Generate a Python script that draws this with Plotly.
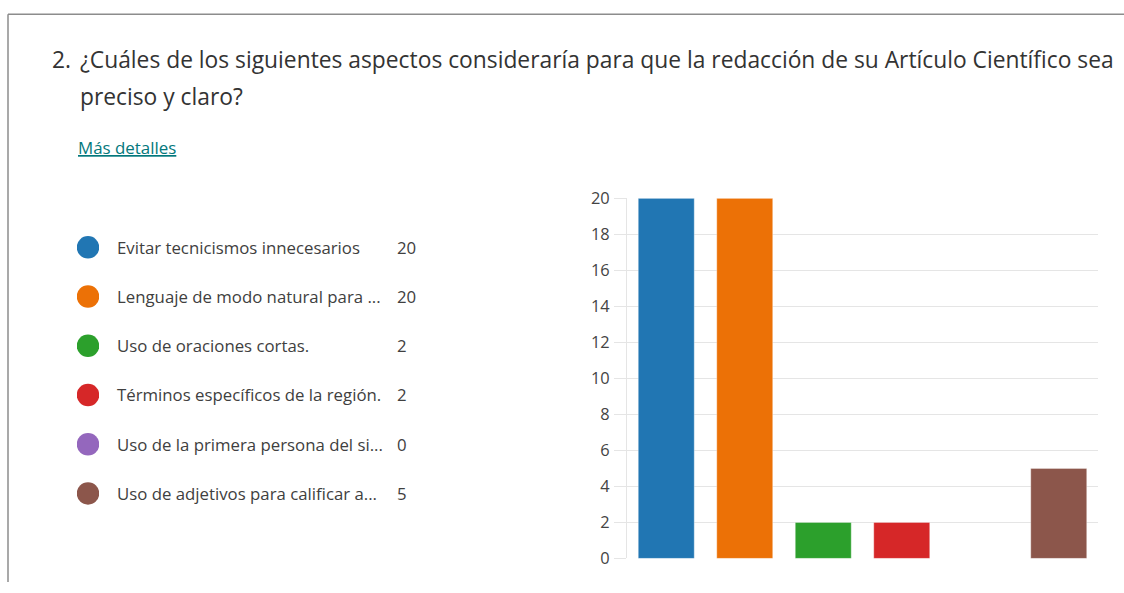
import plotly.graph_objects as go

# ---- data ----
categories = [
    "Evitar tecnicismos innecesarios",
    "Lenguaje de modo natural para ...",
    "Uso de oraciones cortas.",
    "Términos específicos de la región.",
    "Uso de la primera persona del si...",
    "Uso de adjetivos para calificar a...",
]
counts = [20, 20, 2, 2, 0, 5]
colors = ["#2176b3", "#ec7106", "#2ca02c", "#d62728", "#9467bd", "#8c564b"]
y_ticks = list(range(0, 21, 2))

title_line1 = "¿Cuáles de los siguientes aspectos consideraría para que la redacción de su Artículo Científico sea"
title_line2 = "preciso y claro?"
link_text = "Más detalles"

W, H = 1124, 593
FONT = "Open Sans, Noto Sans, sans-serif"
TXT = "#333333"

# vertical correction for how the page ends up in the photograph
V_OFF, V_SC = 11.7, 0.961

def px(x):
    return x / W

def py(y):
    yy = (y - V_OFF) / V_SC
    return (H - yy) / H

fig = go.Figure()

# bar chart
fig.add_trace(go.Bar(
    x=categories, y=counts,
    marker=dict(color=colors, line=dict(color="rgba(255,255,255,0.35)", width=1)),
    xaxis="x", yaxis="y", showlegend=False, hoverinfo="x+y",
))

# legend circles
fig.add_trace(go.Scatter(
    x=[0] * len(categories), y=categories,
    mode="markers",
    marker=dict(color=colors, size=22.5, line=dict(width=0)),
    xaxis="x2", yaxis="y2", showlegend=False, hoverinfo="skip",
))

annotations = []
for cat, val in zip(categories, counts):
    annotations.append(dict(
        x=px(115), y=cat, xref="paper", yref="y2", text=cat,
        showarrow=False, xanchor="left", yanchor="middle",
        font=dict(family=FONT, size=16.8, color="#404040"),
    ))
    annotations.append(dict(
        x=px(395), y=cat, xref="paper", yref="y2", text=str(val),
        showarrow=False, xanchor="left", yanchor="middle",
        font=dict(family=FONT, size=16.8, color="#404040"),
    ))

annotations += [
    dict(x=px(50), y=py(59), xref="paper", yref="paper", text="2.",
         showarrow=False, xanchor="left", yanchor="middle",
         font=dict(family=FONT, size=22.8, color=TXT)),
    dict(x=px(78), y=py(59), xref="paper", yref="paper", text=title_line1,
         showarrow=False, xanchor="left", yanchor="middle",
         font=dict(family=FONT, size=22.8, color=TXT)),
    dict(x=px(78), y=py(96), xref="paper", yref="paper", text=title_line2,
         showarrow=False, xanchor="left", yanchor="middle",
         font=dict(family=FONT, size=22.8, color=TXT)),
    dict(x=px(76), y=py(147), xref="paper", yref="paper", text="<u>" + link_text + "</u>",
         showarrow=False, xanchor="left", yanchor="middle",
         font=dict(family=FONT, size=16.9, color="#03787c")),
]

shapes = [
    dict(type="line", xref="paper", yref="paper", x0=px(8), x1=1, y0=py(14), y1=py(14),
         line=dict(color="#8c8c8c", width=1.5)),
    dict(type="line", xref="paper", yref="paper", x0=px(8), x1=px(8), y0=py(14), y1=0,
         line=dict(color="#8c8c8c", width=1.5)),
]

fig.update_layout(
    width=W, height=H,
    margin=dict(l=0, r=0, t=0, b=0),
    paper_bgcolor="white", plot_bgcolor="white",
    bargap=0.287,
    font=dict(family=FONT, color=TXT),
    xaxis=dict(
        domain=[px(627), px(1098)], showticklabels=False, showgrid=False,
        zeroline=False, showline=False, ticks="", fixedrange=True,
    ),
    yaxis=dict(
        domain=[py(558), py(198)], range=[0, 20], tickvals=y_ticks,
        showgrid=True, gridcolor="#e5e5e5", gridwidth=1,
        zeroline=False, showline=True, linecolor="#e5e5e5", linewidth=1,
        ticks="outside", ticklen=12, tickcolor="#e5e5e5", tickwidth=1,
        tickfont=dict(family=FONT, size=16.4, color="#444444"),
        ticklabelstandoff=1, fixedrange=True,
    ),
    xaxis2=dict(
        domain=[px(77), px(99)], range=[-1, 1], visible=False, anchor="y2",
        fixedrange=True,
    ),
    yaxis2=dict(
        domain=[py(517.6), py(222.4)], range=[5.5, -0.5], visible=False,
        type="category", categoryorder="array", categoryarray=categories,
        anchor="x2", fixedrange=True,
    ),
    annotations=annotations,
    shapes=shapes,
)

post = (
    "var s=document.createElement('style');"
    "s.textContent='html,body{margin:0!important;padding:0!important;overflow:hidden!important;}';"
    "document.head.appendChild(s);"
)

fig.write_html(
    "out.html",
    config={"displayModeBar": False},
    post_script=post,
)
